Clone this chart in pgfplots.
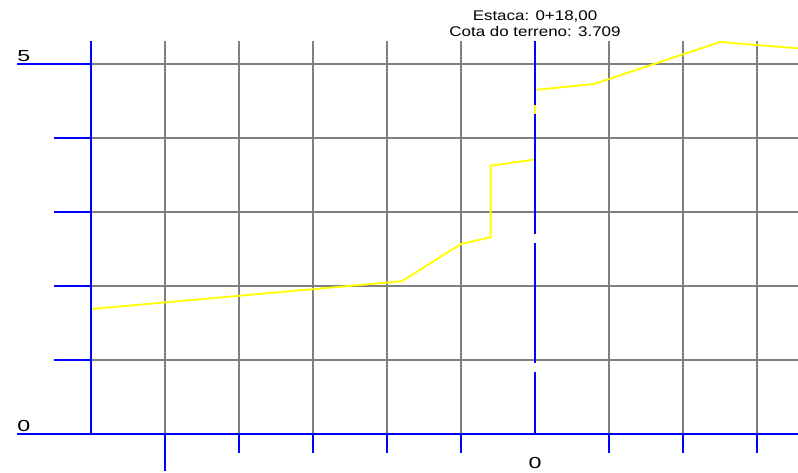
\documentclass[border=0pt]{standalone}
\usepackage{pgfplots}
\pgfplotsset{compat=1.18}
\usepackage{pgfplotstable}
\usepackage{fontspec}
\setmainfont{Liberation Sans}
\newfontfamily\cadtitle[FakeStretch=1.21]{Liberation Sans}
\newfontfamily\cadlabel[FakeStretch=1.45]{Liberation Sans}
\definecolor{cadgray}{RGB}{128,128,128}
\definecolor{cadblue}{RGB}{0,0,255}
\definecolor{cadyellow}{RGB}{255,255,0}

\pgfplotstableread{
x y
-6 1.689
-1.801 2.064
-1.0 2.568
-0.599 2.658
-0.599 3.626
0 3.709
0 4.649
0.8 4.730
2.5 5.297
3.554 5.212
}\terrain

\begin{document}
\begin{tikzpicture}
\begin{axis}[
  scale only axis, width=598.5pt, height=354.75pt,
  xmin=-7.2297, xmax=3.5541, ymin=-0.527, ymax=5.8649,
  hide axis, clip=false,
]
% gray grid
\pgfplotsinvokeforeach{1,2,3,4,5}{
  \addplot[cadgray, line width=1.4pt, no marks] coordinates {(-6,#1) (3.5541,#1)};
}
\pgfplotsinvokeforeach{-5,-4,-3,-2,-1,1,2,3}{
  \addplot[cadgray, line width=1.4pt, no marks] coordinates {(#1,0) (#1,5.311)};
}
% terrain
\addplot[cadyellow, line width=1.4pt, no marks] table {\terrain};
% blue axes
\addplot[cadblue, line width=1.4pt, no marks] coordinates {(-6,0) (-6,5.311)};
\addplot[cadblue, line width=1.4pt, no marks] coordinates {(-7,5) (-6,5)};
\addplot[cadblue, line width=1.4pt, no marks] coordinates {(-7,0) (3.5541,0)};
\pgfplotsinvokeforeach{1,2,3,4}{
  \addplot[cadblue, line width=1.4pt, no marks] coordinates {(-6.5,#1) (-6,#1)};
}
\pgfplotsinvokeforeach{-4,-3,-2,-1,1,2,3}{
  \addplot[cadblue, line width=1.4pt, no marks] coordinates {(#1,0) (#1,-0.257)};
}
\addplot[cadblue, line width=1.4pt, no marks] coordinates {(-5,0) (-5,-0.5)};
\addplot[cadblue, line width=1.4pt, no marks, dash pattern=on 90pt off 6.75pt, dash phase=43.5pt] coordinates {(0,0) (0,5.311)};
% labels
\node[anchor=base west, inner sep=0pt, font=\cadlabel\fontsize{12}{14}\selectfont] at (axis cs:-7.0,5.04) {5};
\node[anchor=base west, inner sep=0pt, font=\cadlabel\fontsize{12}{14}\selectfont] at (axis cs:-7.0,0.034) {0};
\node[anchor=base, inner sep=0pt, font=\cadlabel\fontsize{12}{14}\selectfont] at (axis cs:0,-0.464) {0};
\node[anchor=base, inner sep=0pt, font=\cadtitle\fontsize{10.5}{12}\selectfont] at (axis cs:0,5.585) {Estaca: 0+18,00};
\node[anchor=base, inner sep=0pt, font=\cadtitle\fontsize{10.5}{12}\selectfont] at (axis cs:0,5.372) {Cota do terreno: 3.709};
\end{axis}
\pgfresetboundingbox
\path[use as bounding box] (current axis.south west) rectangle (current axis.north east);
\end{tikzpicture}
\end{document}
